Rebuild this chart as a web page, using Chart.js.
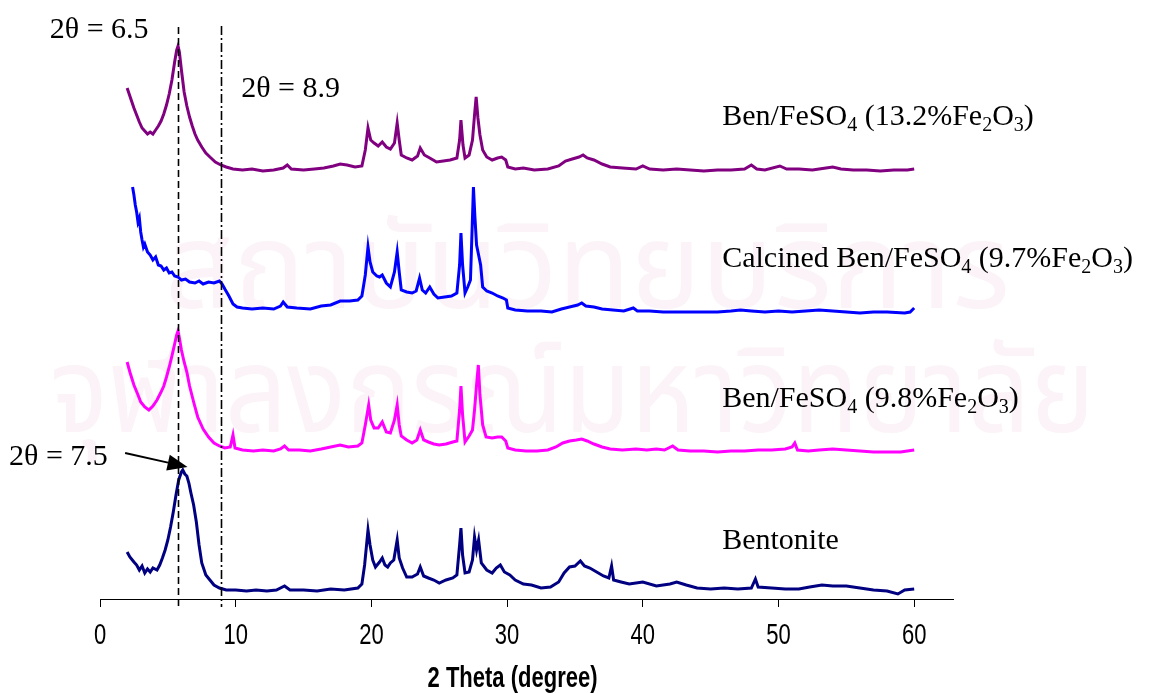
<!DOCTYPE html>
<html>
  <head>
    <meta charset="utf-8">
    <script src="https://cdn.jsdelivr.net/npm/chart.js@4.4.0/dist/chart.umd.min.js"></script>
    <style>
      body { margin: 0; background: #fff; }
    </style>
  </head>
  <body>
    <canvas id="xrdChart" width="1160" height="693"></canvas>
    <script>
      // [2 theta (degree), intensity (a.u., stacked with offset)]
      const benFeSO4_132 = [[2.0,511],[2.2,503],[2.5,491],[2.7,484],[2.9,477],[3.1,471],[3.3,468],[3.5,465],[3.7,467],[3.9,465],[4.1,469],[4.3,473],[4.5,478],[4.7,485],[4.9,494],[5.1,505],[5.3,519],[5.5,537],[5.65,549],[5.75,553],[5.85,547],[6.0,529],[6.2,507],[6.4,493],[6.6,482],[6.8,473],[7.0,465],[7.2,459],[7.5,452],[7.8,446],[8.1,442],[8.5,437],[8.9,434],[9.3,432],[9.8,430],[10.5,429],[11.2,430],[12.0,428],[12.8,429],[13.5,431],[13.8,434],[14.1,430],[15.0,429],[15.8,430],[16.5,431],[17.2,433],[17.7,435],[18.2,434],[18.8,432],[19.3,433],[19.55,449],[19.75,471],[19.95,459],[20.2,456],[20.5,453],[20.8,457],[21.1,452],[21.4,450],[21.7,456],[21.9,476],[22.05,459],[22.2,444],[22.6,441],[23.0,439],[23.4,443],[23.6,451],[23.9,444],[24.3,441],[24.8,437],[25.3,438],[25.8,439],[26.3,441],[26.5,459],[26.6,479],[26.75,454],[26.9,441],[27.2,444],[27.45,459],[27.6,484],[27.72,502],[27.85,481],[28.0,464],[28.2,449],[28.5,442],[28.9,439],[29.3,441],[29.6,442],[29.9,439],[30.05,432],[30.6,430],[31.2,431],[32.0,429],[33.0,430],[33.8,433],[34.3,438],[34.8,440],[35.3,442],[35.6,444],[35.9,441],[36.4,439],[37.0,435],[37.6,432],[38.5,431],[39.5,430],[40.0,433],[40.5,430],[41.5,429],[42.5,430],[43.5,429],[44.5,428],[45.5,429],[46.5,429],[47.5,430],[48.0,434],[48.4,430],[49.0,429],[50.1,433],[50.6,430],[51.5,430],[52.5,429],[53.5,431],[54.0,432],[54.6,430],[55.5,429],[56.5,429],[57.5,428],[58.5,429],[59.5,429],[60.0,430]];
      const calcinedBen = [[2.4,412],[2.5,404],[2.6,394],[2.7,387],[2.8,377],[2.9,381],[3.0,367],[3.1,359],[3.2,352],[3.3,355],[3.5,347],[3.7,344],[3.9,339],[4.1,342],[4.3,334],[4.5,333],[4.7,329],[4.9,331],[5.1,326],[5.3,327],[5.5,323],[5.75,322],[6.0,319],[6.3,320],[6.6,317],[7.0,316],[7.3,318],[7.6,315],[8.0,317],[8.4,316],[8.8,318],[9.0,315],[9.2,310],[9.5,303],[9.8,295],[10.1,292],[10.5,291],[11.2,290],[12.0,291],[12.8,290],[13.3,293],[13.5,297],[13.8,292],[14.5,291],[15.5,290],[16.3,293],[17.0,294],[17.7,298],[18.4,298],[19.0,299],[19.3,303],[19.55,324],[19.75,352],[19.9,337],[20.1,327],[20.4,323],[20.6,322],[20.8,324],[21.1,316],[21.4,312],[21.7,327],[21.9,347],[22.05,327],[22.2,309],[22.6,307],[23.0,306],[23.3,308],[23.55,321],[23.75,309],[24.0,306],[24.3,312],[24.6,305],[24.9,301],[25.4,302],[25.9,303],[26.3,306],[26.5,334],[26.6,366],[26.72,334],[26.9,306],[27.1,312],[27.3,319],[27.42,369],[27.52,412],[27.62,384],[27.75,354],[27.9,344],[28.05,334],[28.2,312],[28.5,308],[28.9,306],[29.3,303],[29.7,301],[29.95,299],[30.05,291],[30.6,289],[31.5,288],[32.5,288],[33.3,287],[34.0,290],[34.6,292],[35.2,294],[35.5,296],[35.8,293],[36.4,292],[37.0,290],[37.8,289],[38.6,288],[39.3,291],[39.6,288],[40.5,288],[41.5,287],[42.5,287],[43.5,287],[44.5,287],[45.5,287],[46.5,288],[47.2,289],[48.0,288],[49.0,287],[50.0,288],[51.0,287],[52.0,288],[53.0,289],[54.0,288],[55.0,287],[56.0,286],[57.0,287],[58.0,287],[59.3,286],[59.7,287],[60.0,291]];
      const benFeSO4_98 = [[2.0,237],[2.2,227],[2.5,214],[2.8,204],[3.0,197],[3.3,192],[3.6,189],[3.9,193],[4.2,199],[4.5,207],[4.7,213],[4.9,222],[5.1,232],[5.3,243],[5.5,255],[5.65,264],[5.75,268],[5.85,261],[6.0,249],[6.2,237],[6.4,227],[6.6,213],[6.9,197],[7.2,182],[7.6,170],[8.0,162],[8.4,156],[8.8,153],[9.2,151],[9.6,152],[9.8,164],[9.95,151],[10.5,149],[11.3,148],[12.0,149],[12.8,148],[13.3,150],[13.6,153],[13.9,149],[14.7,149],[15.5,148],[16.3,150],[17.0,152],[17.7,154],[18.3,152],[19.0,153],[19.3,156],[19.55,174],[19.8,194],[19.95,179],[20.2,171],[20.5,171],[20.8,177],[21.1,167],[21.4,166],[21.7,179],[21.9,194],[22.05,174],[22.2,163],[22.6,159],[23.0,156],[23.35,159],[23.6,169],[23.85,159],[24.2,157],[24.6,155],[25.0,154],[25.5,155],[26.0,157],[26.3,158],[26.5,189],[26.6,213],[26.72,184],[26.9,157],[27.2,163],[27.45,169],[27.6,189],[27.75,214],[27.88,234],[28.0,204],[28.2,174],[28.45,162],[28.9,161],[29.3,162],[29.6,162],[29.9,158],[30.05,151],[30.6,149],[31.4,148],[32.2,148],[33.0,149],[33.6,152],[34.1,156],[34.6,158],[35.1,159],[35.5,160],[35.9,158],[36.4,155],[37.0,152],[37.6,150],[38.5,149],[39.5,150],[40.3,149],[41.0,150],[41.6,149],[42.2,153],[42.6,149],[43.5,148],[44.5,148],[45.5,147],[46.5,148],[47.5,148],[48.5,149],[49.5,149],[50.5,150],[51.0,152],[51.2,156],[51.4,149],[52.2,148],[53.0,149],[54.0,150],[55.0,149],[56.0,148],[57.0,147],[58.0,147],[59.0,147],[60.0,149]];
      const bentonite = [[2.0,47],[2.2,42],[2.5,37],[2.7,34],[2.9,29],[3.1,33],[3.3,26],[3.5,30],[3.7,27],[3.9,31],[4.2,29],[4.4,34],[4.6,41],[4.8,49],[5.0,59],[5.2,72],[5.4,87],[5.6,104],[5.8,119],[6.0,127],[6.1,129],[6.25,125],[6.4,123],[6.55,116],[6.7,106],[6.9,94],[7.1,77],[7.3,54],[7.5,36],[7.8,24],[8.1,19],[8.4,14],[8.8,11],[9.3,9],[10.0,9],[10.8,8],[11.5,9],[12.3,8],[13.0,9],[13.6,13],[14.0,9],[15.0,9],[16.0,8],[17.0,10],[18.0,9],[19.0,11],[19.3,15],[19.5,34],[19.75,69],[19.9,54],[20.1,39],[20.3,32],[20.6,37],[20.8,41],[21.0,34],[21.2,32],[21.4,36],[21.65,39],[21.9,59],[22.05,41],[22.3,31],[22.6,22],[23.0,22],[23.4,25],[23.6,32],[23.85,23],[24.2,21],[24.6,19],[25.0,16],[25.5,19],[26.0,21],[26.3,24],[26.5,54],[26.6,71],[26.72,44],[26.9,26],[27.2,27],[27.45,39],[27.6,62],[27.75,49],[27.9,59],[28.1,36],[28.5,29],[28.9,26],[29.2,31],[29.5,34],[29.8,27],[30.2,24],[30.6,19],[31.2,15],[31.8,14],[32.5,11],[33.2,12],[33.8,17],[34.2,26],[34.6,32],[35.0,33],[35.4,38],[35.7,33],[36.1,31],[36.6,27],[37.1,23],[37.5,21],[37.7,33],[37.85,19],[38.4,17],[39.0,15],[40.0,17],[41.0,13],[42.0,15],[42.5,17],[43.2,14],[44.0,11],[45.0,10],[46.0,11],[47.0,10],[48.0,11],[48.3,20],[48.5,12],[49.5,11],[50.5,10],[51.5,10],[52.3,12],[53.2,14],[54.0,13],[55.0,13],[56.0,11],[57.0,9],[58.0,8],[58.8,5],[59.3,9],[60.0,10]];

      const xTicks = [0, 10, 20, 30, 40, 50, 60];
      const seriesNames = ["Ben/FeSO_4 (13.2%Fe_2O_3)", "Calcined Ben/FeSO_4 (9.7%Fe_2O_3)", "Ben/FeSO_4 (9.8%Fe_2O_3)", "Bentonite"];
      const seriesColors = ["#800080", "#0000ff", "#ff00ff", "#000080"];
      // label anchors in data units [theta, intensity]
      const seriesLabelPos = [[45.85, 474], [45.85, 332], [45.85, 192], [45.85, 50]];
      // reference lines: [theta, from, to, dash]
      const refLines = [[5.75, 572, -8, [7, 4]], [8.9, 573, -8, [9, 3, 2, 3]]];
      const peakNotes = [["2θ = 6.5", -3.7, 561], ["2θ = 8.9", 10.4, 502], ["2θ = 7.5", -6.7, 134]];
      const arrowFrom = [1.85, 146], arrowTo = [6.45, 132];
      const axisTitle = "2 Theta (degree)";

      function drawRich(ctx, str, x, y, size) {
        // "_" marks the next char as a subscript
        const parts = [];
        for (let i = 0; i < str.length; i++) {
          if (str[i] === "_") { parts.push([str[i + 1], true]); i++; }
          else if (parts.length && !parts[parts.length - 1][1]) parts[parts.length - 1][0] += str[i];
          else parts.push([str[i], false]);
        }
        let cx = x;
        parts.forEach(([t, sub]) => {
          ctx.font = (sub ? Math.round(size * 0.66) : size) + 'px "Liberation Serif", "Times New Roman", serif';
          ctx.fillText(t, cx, sub ? y + size * 0.2 : y);
          cx += ctx.measureText(t).width;
        });
      }

      // tall, narrow sans text like the original axis lettering
      function drawTall(ctx, t, x, y, font) {
        ctx.save();
        ctx.font = font;
        ctx.translate(x, y);
        ctx.scale(1, 1.35);
        ctx.fillText(t, 0, 0);
        ctx.restore();
      }

      const watermark = {
        id: "watermark",
        beforeDraw(chart) {
          const ctx = chart.ctx;
          ctx.save();
          ctx.fillStyle = "#fbf3f7";
          ctx.textBaseline = "alphabetic";
          ctx.font = '120px "Noto Sans Thai", "Noto Sans", "DejaVu Sans", sans-serif';
          const lines = [["สถาบันวิทยบริการ", 165, 308, 845], ["จุฬาลงกรณ์มหาวิทยาลัย", 50, 432, 1045]];
          lines.forEach(([t, x, y, w]) => {
            const m = ctx.measureText(t).width;
            ctx.save();
            ctx.translate(x, y);
            ctx.scale(w / m, 1);
            ctx.fillText(t, 0, 0);
            ctx.restore();
          });
          ctx.restore();
        }
      };

      const annotations = {
        id: "annotations",
        afterDatasetsDraw(chart) {
          const ctx = chart.ctx;
          const xs = chart.scales.x, ys = chart.scales.y;
          ctx.save();
          ctx.strokeStyle = "#000";
          ctx.lineWidth = 1.6;
          refLines.forEach(([t, a, b, dash]) => {
            const px = Math.round(xs.getPixelForValue(t)) + 0.5;
            ctx.setLineDash(dash);
            ctx.beginPath();
            ctx.moveTo(px, ys.getPixelForValue(a));
            ctx.lineTo(px, ys.getPixelForValue(b));
            ctx.stroke();
          });
          ctx.setLineDash([]);

          ctx.fillStyle = "#000";
          ctx.textBaseline = "alphabetic";
          ctx.textAlign = "left";
          peakNotes.forEach(([t, x, y]) => drawRich(ctx, t, xs.getPixelForValue(x), ys.getPixelForValue(y), 30));
          seriesNames.forEach((t, i) => drawRich(ctx, t, xs.getPixelForValue(seriesLabelPos[i][0]), ys.getPixelForValue(seriesLabelPos[i][1]), 30));

          // arrow to the bentonite basal peak
          const x1 = xs.getPixelForValue(arrowFrom[0]), y1 = ys.getPixelForValue(arrowFrom[1]);
          const x2 = xs.getPixelForValue(arrowTo[0]), y2 = ys.getPixelForValue(arrowTo[1]);
          const ang = Math.atan2(y2 - y1, x2 - x1);
          const hl = 20, hw = 8;
          const bx = x2 - hl * Math.cos(ang), by = y2 - hl * Math.sin(ang);
          ctx.lineWidth = 2;
          ctx.beginPath();
          ctx.moveTo(x1, y1);
          ctx.lineTo(bx, by);
          ctx.stroke();
          ctx.beginPath();
          ctx.moveTo(x2, y2);
          ctx.lineTo(bx + hw * Math.sin(ang), by - hw * Math.cos(ang));
          ctx.lineTo(bx - hw * Math.sin(ang), by + hw * Math.cos(ang));
          ctx.closePath();
          ctx.fill();

          // x tick labels and axis title
          const base = chart.chartArea.bottom;
          ctx.textAlign = "center";
          xTicks.forEach(v => drawTall(ctx, String(v), xs.getPixelForValue(v), base + 45, '22px "Liberation Sans", Arial, sans-serif'));
          drawTall(ctx, axisTitle, xs.getPixelForValue(30.4), base + 88, 'bold 22px "Liberation Sans", Arial, sans-serif');
          ctx.restore();
        }
      };

      const series = [benFeSO4_132, calcinedBen, benFeSO4_98, bentonite];
      const ctx = document.getElementById("xrdChart").getContext("2d");
      const chart = new Chart(ctx, {
        type: "line",
        data: {
          datasets: series.map((s, i) => ({
            label: seriesNames[i],
            data: s.map(p => ({ x: p[0], y: p[1] })),
            borderColor: seriesColors[i],
            borderWidth: 3,
            pointRadius: 0,
            tension: 0,
            fill: false
          }))
        },
        options: {
          responsive: false,
          animation: false,
          devicePixelRatio: 1,
          layout: { padding: { left: 100, right: 207, top: 0, bottom: 0 } },
          plugins: { legend: { display: false }, tooltip: { enabled: false } },
          scales: {
            x: {
              type: "linear",
              min: 0,
              max: 62.86,
              afterBuildTicks: scale => { scale.ticks = xTicks.map(v => ({ value: v })); },
              afterFit: scale => { scale.height = 94; },
              grid: { drawOnChartArea: false, drawTicks: true, tickLength: 8, color: "#000" },
              border: { display: true, color: "#000", width: 1 },
              ticks: { display: false },
              title: { display: false }
            },
            y: { display: false, min: 0, max: 599 }
          }
        },
        plugins: [watermark, annotations]
      });
    </script>
  </body>
</html>
